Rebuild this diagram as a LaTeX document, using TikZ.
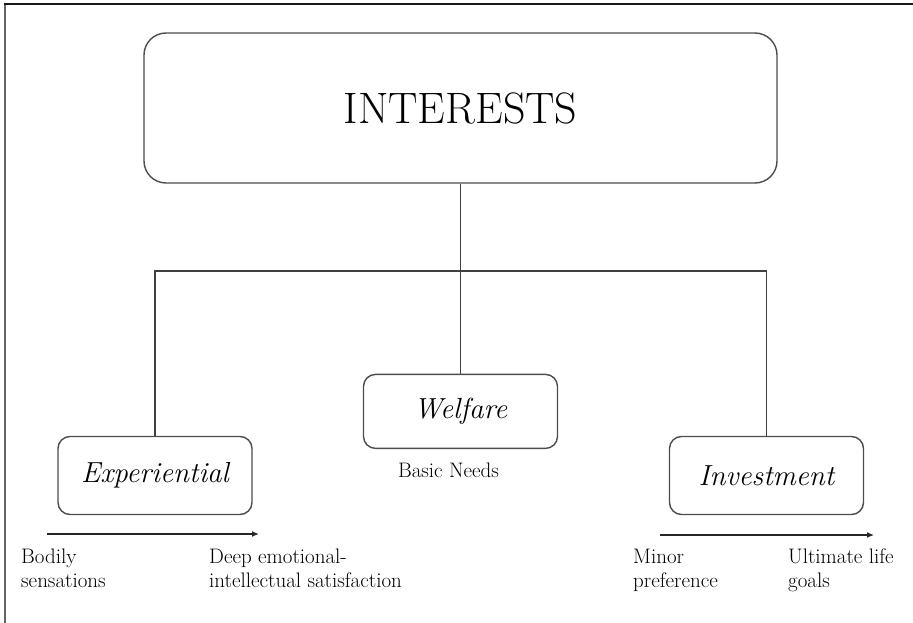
\documentclass[tikz,border=0pt]{standalone}
\usetikzlibrary{positioning,arrows.meta}

\begin{document}
\begin{tikzpicture}[x=1pt, y=-1pt,
    rootbox/.style = {draw=black!70, line width=1.4pt, rounded corners=22pt, minimum width=633pt, minimum height=150pt, inner sep=0pt, font=\fontsize{44}{50}\selectfont},
    catbox/.style = {draw=black!70, line width=1.4pt, rounded corners=12pt, minimum width=194pt, minimum height=78pt, inner sep=0pt, font=\fontsize{29}{34}\selectfont\itshape},
    endlabel/.style = {align=left, anchor=north west, inner sep=0pt, font=\fontsize{21}{24}\selectfont},
    link/.style = {draw=black!75, line width=1.4pt},
    spectrum/.style = {draw=black!85, line width=1.3pt, -{Latex[length=7pt,width=6pt]}}]
    \useasboundingbox (0,0) rectangle (913,623);
    % frame
    \draw[black!60, line width=2pt] (5,623) -- (5,4);
    \draw[black!90, line width=2pt] (4,4) -- (913,4);
    % tree
    \node[rootbox] (interests) at (460.5,108) {INTERESTS};
    \node[catbox, minimum height=74pt] (welfare) [below=190pt of interests] {Welfare};
    \node[catbox] (experiential) at (155,475.5) {Experiential};
    \node[catbox] (investment) at (766.5,475.5) {Investment};
    \node[endlabel] (needs) [below=14pt of welfare, xshift=-12pt] {Basic Needs};
    \coordinate (bar) at (460.5,271);
    \draw[link] (interests) -- (welfare);
    \draw[link] (experiential) |- (bar) -| (investment);
    % scales
    \coordinate (expfrom) at (47,534);
    \coordinate (expto) at (259,534);
    \coordinate (invfrom) at (660,535);
    \coordinate (invto) at (874,535);
    \draw[spectrum] (expfrom) -- (expto);
    \draw[spectrum] (invfrom) -- (invto);
    \node[endlabel] (bodily) at (21,549) {Bodily\\sensations};
    \node[endlabel] (deep) at (209,549) {Deep emotional-\\intellectual satisfaction};
    \node[endlabel] (minor) at (633,549) {Minor\\preference};
    \node[endlabel] (ultimate) at (788,549) {Ultimate life\\goals};
\end{tikzpicture}
\end{document}
